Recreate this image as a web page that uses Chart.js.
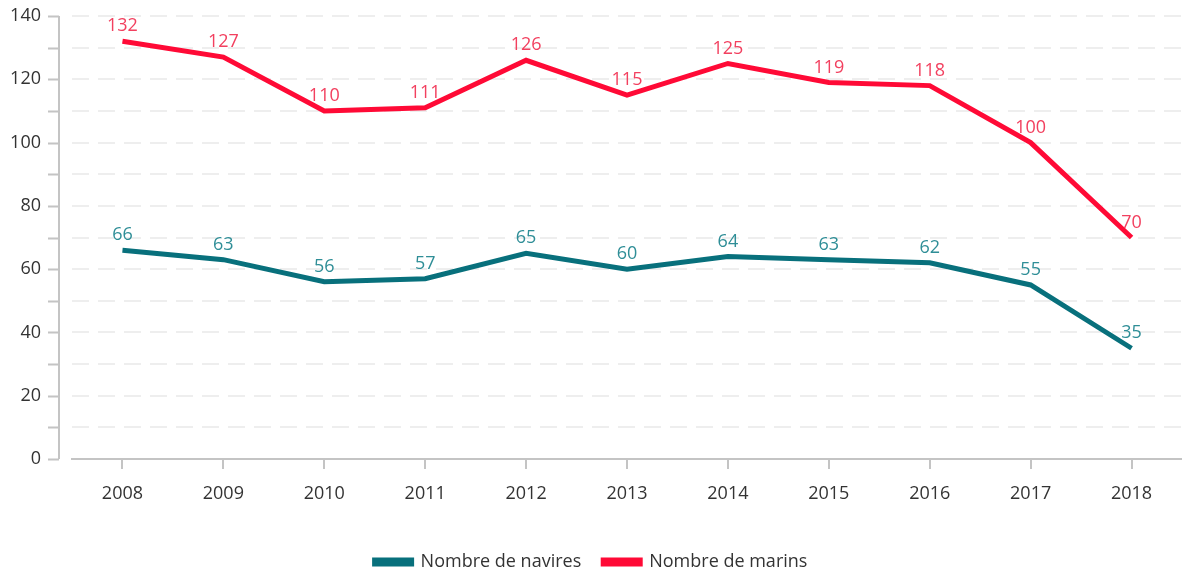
<!DOCTYPE html>
<html>
<head>
<meta charset="utf-8">
<script src="https://cdn.jsdelivr.net/npm/chart.js@4"></script>
<style>
  html, body { margin: 0; padding: 0; background: #fff; }
  #wrap { width: 1182px; height: 575px; }
</style>
</head>
<body>
<div id="wrap"><canvas id="navChart"></canvas></div>
<script>
const years = ['2008', '2009', '2010', '2011', '2012', '2013', '2014', '2015', '2016', '2017', '2018'];
const navires = [66, 63, 56, 57, 65, 60, 64, 63, 62, 55, 35];
const marins = [132, 127, 110, 111, 126, 115, 125, 119, 118, 100, 70];
const yTicks = [0, 20, 40, 60, 80, 100, 120, 140];

const FONT = "'Open Sans', 'Noto Sans', sans-serif";

// valeurs au-dessus des points
const pointLabels = {
  id: 'pointLabels',
  afterDatasetsDraw(chart) {
    const ctx = chart.ctx;
    ctx.save();
    ctx.font = '18px ' + FONT;
    ctx.textAlign = 'center';
    ctx.textBaseline = 'bottom';
    chart.data.datasets.forEach((ds, i) => {
      const meta = chart.getDatasetMeta(i);
      ctx.fillStyle = ds.labelColor;
      meta.data.forEach((pt, j) => {
        ctx.fillText(ds.data[j], pt.x, pt.y - 6);
      });
    });
    ctx.restore();
  }
};

// axe vertical décalé avec graduations tous les 10
const yAxisLine = {
  id: 'yAxisLine',
  afterDraw(chart) {
    const y = chart.scales.y;
    const ctx = chart.ctx;
    const x = chart.chartArea.left - 13;
    ctx.save();
    ctx.strokeStyle = '#c4c4c4';
    ctx.lineWidth = 2;
    ctx.beginPath();
    ctx.moveTo(x, y.getPixelForValue(140));
    ctx.lineTo(x, y.getPixelForValue(0));
    for (let v = 0; v <= 140; v += 10) {
      const py = Math.round(y.getPixelForValue(v)) + 0.5;
      ctx.moveTo(x - 11, py);
      ctx.lineTo(x, py);
    }
    ctx.stroke();
    ctx.restore();
  }
};

new Chart(document.getElementById('navChart').getContext('2d'), {
  type: 'line',
  data: {
    labels: years,
    datasets: [{
      label: 'Nombre de navires',
      data: navires,
      borderColor: '#08707c',
      backgroundColor: '#08707c',
      labelColor: '#2f8e97',
      borderWidth: 5,
      pointRadius: 0,
      tension: 0
    }, {
      label: 'Nombre de marins',
      data: marins,
      borderColor: '#ff0a36',
      backgroundColor: '#ff0a36',
      labelColor: '#f2405f',
      borderWidth: 5,
      pointRadius: 0,
      tension: 0
    }]
  },
  options: {
    responsive: true,
    maintainAspectRatio: false,
    animation: false,
    layout: { padding: { top: 16, right: 0, bottom: -6, left: 0 } },
    plugins: {
      legend: {
        position: 'bottom',
        labels: {
          boxWidth: 37,
          boxHeight: 4,
          padding: 22,
          color: '#333',
          font: { family: FONT, size: 18 }
        }
      },
      tooltip: { enabled: false }
    },
    scales: {
      x: {
        offset: true,
        border: { display: true, color: '#c4c4c4', width: 2 },
        grid: { display: true, drawOnChartArea: false, color: '#c4c4c4', lineWidth: 2, tickLength: 10 },
        ticks: { color: '#333', padding: 14, font: { family: FONT, size: 18 } },
        afterFit(scale) { scale.height = 72; }
      },
      y: {
        min: 0,
        max: 140,
        afterBuildTicks(scale) { scale.ticks = [0, 10, 20, 30, 40, 50, 60, 70, 80, 90, 100, 110, 120, 130, 140].map(v => ({ value: v })); },
        border: { display: false, dash: [17, 9] },
        grid: { color: '#eeeeee', lineWidth: 2, drawTicks: true, tickLength: 31, tickColor: 'rgba(0,0,0,0)' },
        ticks: {
          color: '#333',
          padding: 0,
          font: { family: FONT, size: 18 },
          callback: v => yTicks.includes(v) ? v : ''
        },
        afterFit(scale) { scale.width = 72; }
      }
    }
  },
  plugins: [pointLabels, yAxisLine]
});
</script>
</body>
</html>
